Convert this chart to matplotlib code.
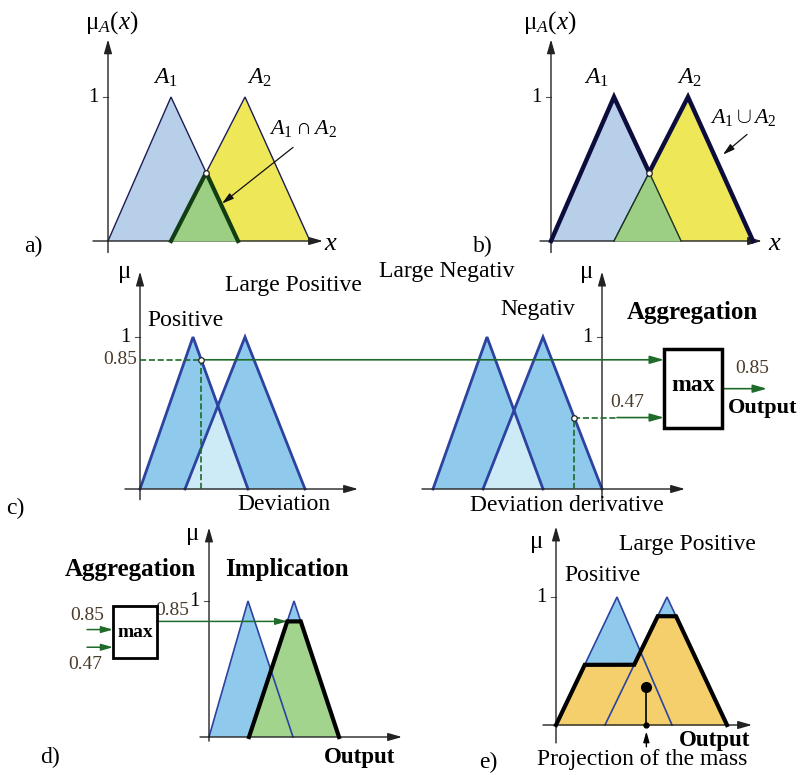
import numpy as np
import matplotlib
matplotlib.use('Agg')
import matplotlib.pyplot as plt
from matplotlib.patches import Rectangle

plt.rcParams['font.family'] = ['Liberation Serif', 'DejaVu Serif']
plt.rcParams['mathtext.fontset'] = 'custom'
plt.rcParams['mathtext.rm'] = 'Liberation Serif'
plt.rcParams['mathtext.it'] = 'Liberation Serif:italic'
plt.rcParams['mathtext.bf'] = 'Liberation Serif:bold'

W, H = 801, 775

## membership functions: (left foot, peak, right foot), x measured from each panel's origin
set_a1 = [0, 63, 130]
set_a2 = [63, 137, 202]
dev_pos = [0, 53, 108]
dev_large_pos = [45, 105, 165]
deriv_large_neg = [-169, -115, -59]
deriv_neg = [-119, -59, 0]
out_pos_d = [0, 39, 84]
out_large_pos_d = [40, 85, 130]
out_pos_e = [0, 61, 116]
out_large_pos_e = [49, 111, 171]

## rule strengths (deviation rule, derivative rule)
firing = [0.85, 0.47]
firing_labels = ['0.85', '0.47']

# colours
c_lblue = '#b8cfe9'
c_yellow = '#eee858'
c_green = '#9ccf83'
c_sky = '#8fc9ec'
c_pale = '#cdeaf7'
c_orange = '#f4cf6c'
c_navy = '#1c1c55'
c_blue = '#2d43a0'
c_arrow = '#1e6b2a'
c_num = '#4a3b2a'

fig = plt.figure(figsize=(W / 100, H / 100), dpi=100)


def panel(ox, oy, h, xl, xr, yb, yt):
    # axes whose x unit is one pixel and whose y unit (mu = 1) is h pixels
    ax = fig.add_axes([(ox + xl) / W, 1 - (oy - yb * h) / H,
                       (xr - xl) / W, (yt - yb) * h / H])
    ax.set_xlim(xl, xr)
    ax.set_ylim(yb, yt)
    ax.axis('off')
    return ax


def mf(p, x):
    return np.interp(x, p, [0, 1, 0], left=0, right=0)


def grid(*sets):
    pts = np.concatenate([np.asarray(s, float) for s in sets])
    return np.union1d(np.linspace(pts.min(), pts.max(), 3000), pts)


def arrow(ax, x0, y0, x1, y1, color='k', lw=1.0, ms=12):
    ax.annotate('', xy=(x1, y1), xytext=(x0, y0),
                arrowprops=dict(arrowstyle='-|>,head_length=0.7,head_width=0.2',
                                color=color, lw=lw, shrinkA=0, shrinkB=0,
                                mutation_scale=ms))


def axes_lines(ax, x0, x1, yb, yt, xo=0, tick_dx=5):
    arrow(ax, x0, 0, x1, 0, color='#222222')
    arrow(ax, xo, yb, xo, yt, color='#222222')
    ax.plot([xo - tick_dx, xo], [1, 1], color='#555555', lw=0.8)
    ax.text(xo - tick_dx - 4, 1.0, '1', fontsize=15, ha='right', va='center')


def tri(ax, p, face=None, edge=None, lw=1.0, z=1):
    if face:
        ax.fill(p, [0, 1, 0], color=face, lw=0, zorder=z)
    if edge:
        ax.plot(p, [0, 1, 0], color=edge, lw=lw, zorder=z + 2, solid_joinstyle='miter')


def dot(ax, x, y, z=8):
    ax.plot(x, y, 'o', ms=4, mfc='white', mec='#222222', mew=0.9, zorder=z)


# ---------------- a) intersection ----------------
ax = panel(108, 241, 144, -110, 240, -0.12, 1.62)
x = grid(set_a1, set_a2)
inter = np.minimum(mf(set_a1, x), mf(set_a2, x))
tri(ax, set_a1, c_lblue, c_navy, 1.0)
tri(ax, set_a2, c_yellow, c_navy, 1.0)
ax.fill_between(x, 0, inter, color=c_green, lw=0, zorder=4)
sel = (x >= set_a2[0]) & (x <= set_a1[2])
ax.plot(x[sel], inter[sel], color='#123d12', lw=3, zorder=5)
k = np.argmax(inter)
dot(ax, x[k], inter[k])
axes_lines(ax, -15, 215, -0.08, 1.40)
ax.text(4, 1.52, 'μ' + r'$_{A}(x)$', fontsize=18, ha='center', va='center')
ax.text(58, 1.13, r'$A_1$', fontsize=17, ha='center', va='center')
ax.text(152, 1.13, r'$A_2$', fontsize=17, ha='center', va='center')
ax.text(195, 0.78, r'$A_1 \cap A_2$', fontsize=16, ha='center', va='center')
arrow(ax, 185, 0.65, 114, 0.26, color='#111111', lw=0.9, ms=10)
ax.text(223, -0.02, r'$x$', fontsize=19, ha='center', va='center')
ax.text(-75, -0.04, 'a)', fontsize=17, ha='center', va='center')

# ---------------- b) union ----------------
ax = panel(551, 241, 144, -110, 240, -0.12, 1.62)
union = np.maximum(mf(set_a1, x), mf(set_a2, x))
tri(ax, set_a1, c_lblue, c_navy, 1.0)
tri(ax, set_a2, c_yellow, c_navy, 1.0)
ax.fill_between(x, 0, inter, color=c_green, lw=0, zorder=4)
ax.plot(x[sel], inter[sel], color='#1c3a1c', lw=0.9, zorder=5)
ax.plot(x, union, color='#0d0d3d', lw=3.2, zorder=6, solid_joinstyle='miter')
dot(ax, x[k], inter[k])
axes_lines(ax, -11, 211, -0.08, 1.40)
ax.text(-1, 1.52, 'μ' + r'$_{A}(x)$', fontsize=18, ha='center', va='center')
ax.text(46, 1.13, r'$A_1$', fontsize=17, ha='center', va='center')
ax.text(139, 1.13, r'$A_2$', fontsize=17, ha='center', va='center')
ax.text(192, 0.86, r'$A_1 \cup A_2$', fontsize=16, ha='center', va='center')
arrow(ax, 196, 0.74, 172, 0.60, color='#111111', lw=0.9, ms=10)
ax.text(224, -0.02, r'$x$', fontsize=19, ha='center', va='center')
ax.text(-68, -0.04, 'b)', fontsize=17, ha='center', va='center')

# ---------------- c) fuzzification and aggregation ----------------
ax = panel(140, 489, 152, -140, 655, -0.16, 1.55)
der0 = 462  # origin of the derivative axis
for a_set, b_set, off in [(dev_pos, dev_large_pos, 0), (deriv_large_neg, deriv_neg, der0)]:
    pa = [v + off for v in a_set]
    pb = [v + off for v in b_set]
    tri(ax, pa, c_sky)
    tri(ax, pb, c_sky)
    xx = grid(pa, pb)
    ax.fill_between(xx, 0, np.minimum(mf(pa, xx), mf(pb, xx)), color=c_pale, lw=0, zorder=2)
    tri(ax, pa, edge=c_blue, lw=2)
    tri(ax, pb, edge=c_blue, lw=2)

axes_lines(ax, -15, 218, -0.07, 1.43)
axes_lines(ax, 282, 545, -0.07, 1.43, xo=der0)

box_x0, box_w, box_y0, box_h = 524, 58, 0.40, 0.52
ax.add_patch(Rectangle((box_x0, box_y0), box_w, box_h, fill=False, lw=2.5,
                       ec='black', zorder=6))
ax.text(box_x0 + box_w / 2, box_y0 + box_h / 2 + 0.02, 'max', fontsize=17,
        fontweight='bold', ha='center', va='center')

# deviation input hits "Positive" on its falling side
lv = firing[0]
xd = dev_pos[1] + (1 - lv) * (dev_pos[2] - dev_pos[1])
ax.plot([0, xd], [lv, lv], '--', color=c_arrow, lw=1.2, zorder=5)
ax.plot([xd, xd], [0, lv], '--', color=c_arrow, lw=1.2, zorder=5)
arrow(ax, xd, lv, box_x0, lv, color=c_arrow, lw=1.2)
dot(ax, xd, lv)
ax.text(-3, lv, firing_labels[0], fontsize=14, color=c_num, ha='right', va='center')

# derivative input hits "Negativ" on its falling side
lv2 = firing[1]
xn = der0 + deriv_neg[1] + (1 - lv2) * (deriv_neg[2] - deriv_neg[1])
ax.plot([xn, xn], [0, lv2], '--', color=c_arrow, lw=1.2, zorder=5)
ax.plot([xn, 477], [lv2, lv2], '--', color=c_arrow, lw=1.2, zorder=5)
arrow(ax, 477, lv2, box_x0, lv2, color=c_arrow, lw=1.2)
dot(ax, xn, lv2)
ax.text(487, lv2 + 0.1, firing_labels[1], fontsize=14, color=c_num, ha='center', va='center')

ym = box_y0 + box_h / 2
arrow(ax, box_x0 + box_w, ym, 627, ym, color=c_arrow, lw=1.2)
ax.text(612, ym + 0.13, firing_labels[int(np.argmax(firing))], fontsize=14,
        color=c_num, ha='center', va='center')
ax.text(623, ym - 0.13, 'Output', fontsize=16, fontweight='bold', ha='center', va='center')

ax.text(-15, 1.43, 'μ', fontsize=18, ha='center', va='center')
ax.text(45, 1.11, 'Positive', fontsize=17, ha='center', va='center')
ax.text(153, 1.34, 'Large Positive', fontsize=17, ha='center', va='center')
ax.text(144, -0.10, 'Deviation', fontsize=17, ha='center', va='center')
ax.text(-125, -0.13, 'c)', fontsize=17, ha='center', va='center')
ax.text(307, 1.43, 'Large Negativ', fontsize=17, ha='center', va='center')
ax.text(398, 1.18, 'Negativ', fontsize=17, ha='center', va='center')
ax.text(447, 1.43, 'μ', fontsize=18, ha='center', va='center')
ax.text(552, 1.16, 'Aggregation', fontsize=18, fontweight='bold', ha='center', va='center')
ax.text(427, -0.11, 'Deviation derivative', fontsize=17, ha='center', va='center')

# ---------------- d) implication ----------------
ax = panel(209, 737, 136, -205, 200, -0.25, 1.62)
lv = max(firing)
l, p, r = out_large_pos_d
clip_x = [l, l + lv * (p - l), r - lv * (r - p), r]
clip_y = [0, lv, lv, 0]
tri(ax, out_pos_d, c_sky)
tri(ax, out_large_pos_d, c_sky)
ax.fill(clip_x, clip_y, color='#a2d48e', lw=0, zorder=2)
tri(ax, out_pos_d, edge=c_blue, lw=1.2)
tri(ax, out_large_pos_d, edge=c_blue, lw=1.2)
ax.plot(clip_x, clip_y, color='black', lw=3, zorder=6, solid_joinstyle='miter')
axes_lines(ax, -9, 193, -0.03, 1.54)

bx0, bw, by0, bh = -96, 44, 0.58, 0.38
ax.add_patch(Rectangle((bx0, by0), bw, bh, fill=False, lw=2, ec='black', zorder=6))
ax.text(bx0 + bw / 2, by0 + bh / 2, 'max', fontsize=14, fontweight='bold',
        ha='center', va='center')
arrow(ax, -122, 0.79, bx0, 0.79, color=c_arrow, lw=1.1, ms=10)
arrow(ax, -122, 0.66, bx0, 0.66, color=c_arrow, lw=1.1, ms=10)
ax.text(-122, 0.89, firing_labels[0], fontsize=14, color=c_num, ha='center', va='center')
ax.text(-124, 0.53, firing_labels[1], fontsize=14, color=c_num, ha='center', va='center')
arrow(ax, bx0 + bw, lv, clip_x[1], lv, color=c_arrow, lw=1.1, ms=10)
ax.text(-37, lv + 0.08, firing_labels[0], fontsize=14, color=c_num, ha='center', va='center')

ax.text(-16, 1.49, 'μ', fontsize=18, ha='center', va='center')
ax.text(-79, 1.23, 'Aggregation', fontsize=18, fontweight='bold', ha='center', va='center')
ax.text(78, 1.23, 'Implication', fontsize=18, fontweight='bold', ha='center', va='center')
ax.text(151, -0.15, 'Output', fontsize=16.5, fontweight='bold', ha='center', va='center')
ax.text(-159, -0.15, 'd)', fontsize=17, ha='center', va='center')

# ---------------- e) accumulation and defuzzification ----------------
ax = panel(556, 725, 128, -100, 215, -0.35, 1.62)
xe = grid(out_pos_e, out_large_pos_e)
agg = np.maximum(np.minimum(mf(out_pos_e, xe), firing[1]),
                 np.minimum(mf(out_large_pos_e, xe), firing[0]))
tri(ax, out_pos_e, c_sky)
tri(ax, out_large_pos_e, c_sky)
ax.fill_between(xe, 0, agg, color=c_orange, lw=0, zorder=2)
tri(ax, out_pos_e, edge=c_blue, lw=1.2)
tri(ax, out_large_pos_e, edge=c_blue, lw=1.2)
ax.plot(xe, agg, color='black', lw=3, zorder=6, solid_joinstyle='miter')
axes_lines(ax, -13, 196, -0.14, 1.55)

# centre of mass of the aggregated set
area = np.trapezoid(agg, xe)
cx = np.trapezoid(xe * agg, xe) / area
cy = np.trapezoid(agg ** 2 / 2, xe) / area
ax.plot([cx, cx], [0, cy], color='black', lw=1.2, zorder=7)
ax.plot(cx, cy, 'o', ms=7, color='black', zorder=8)
ax.plot(cx, 0, 'o', ms=3.5, color='black', zorder=8)
arrow(ax, cx, -0.17, cx, -0.05, color='black', lw=1.0, ms=9)

ax.text(-19, 1.43, 'μ', fontsize=18, ha='center', va='center')
ax.text(46, 1.17, 'Positive', fontsize=17, ha='center', va='center')
ax.text(131, 1.41, 'Large Positive', fontsize=17, ha='center', va='center')
ax.text(159, -0.12, 'Output', fontsize=16.5, fontweight='bold', ha='center', va='center')
ax.text(86, -0.27, 'Projection of the mass', fontsize=17, ha='center', va='center')
ax.text(-68, -0.29, 'e)', fontsize=17, ha='center', va='center')

fig.savefig('out.png', dpi=100, facecolor='white')
